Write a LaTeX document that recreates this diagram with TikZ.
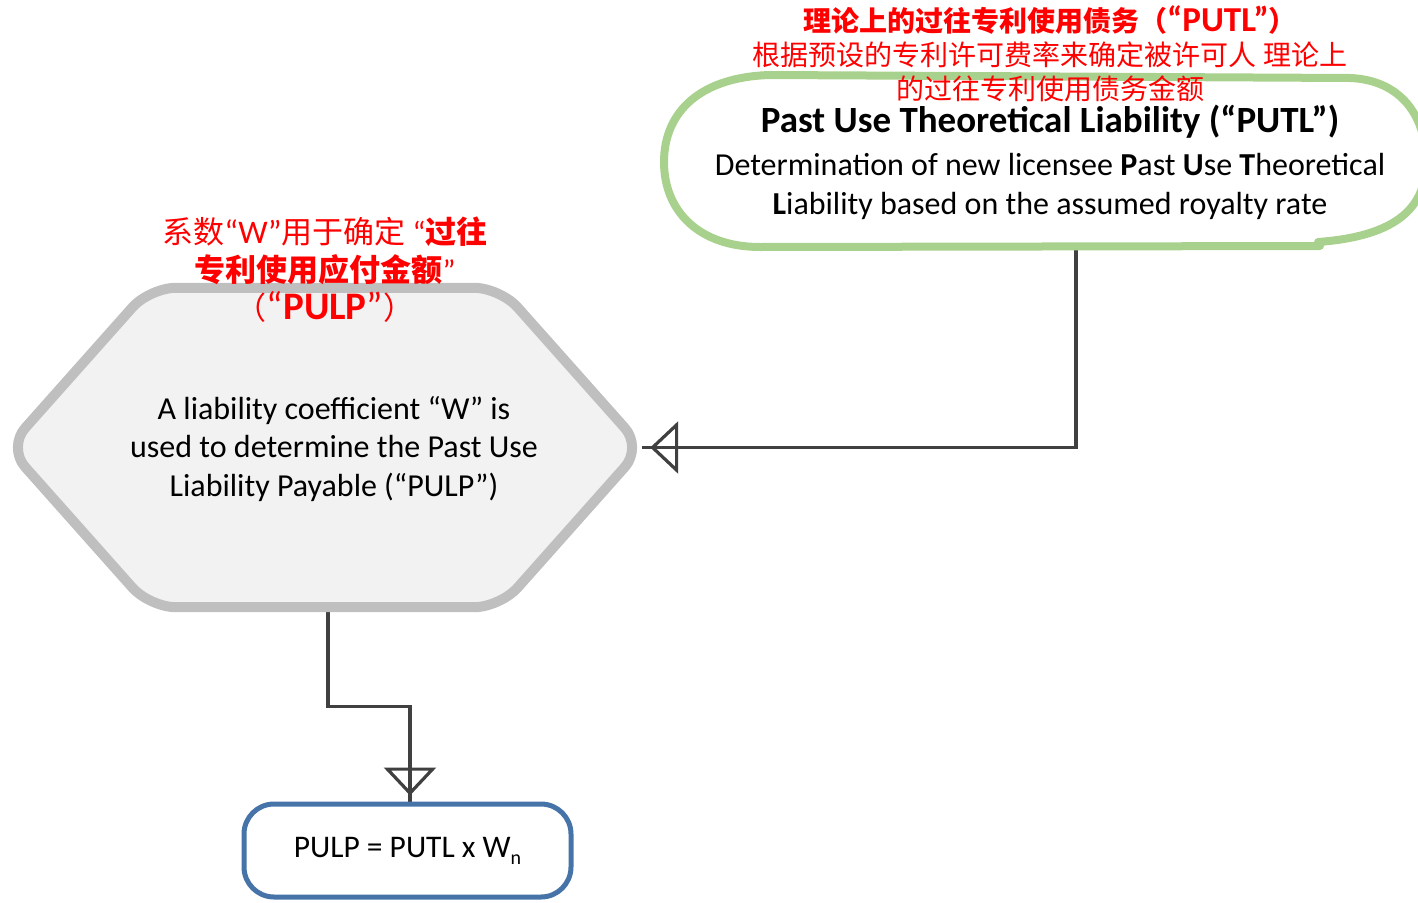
\documentclass[tikz,border=0pt]{standalone}
\usepackage{fontspec}
\setmainfont{Carlito}
\newfontfamily\cjk{Noto Sans CJK SC}
\newcommand{\latx}[1]{{\rmfamily #1}}
\newcommand{\biglatx}[2]{{\rmfamily\fontsize{#1}{#1}\selectfont #2}}
\usetikzlibrary{arrows.meta,calc}
\definecolor{redtxt}{HTML}{FF0000}
\definecolor{greenline}{HTML}{A9D18E}
\definecolor{hexline}{HTML}{BFBFBF}
\definecolor{hexfill}{HTML}{F2F2F2}
\definecolor{connline}{HTML}{404040}
\definecolor{blueline}{HTML}{4674A8}
\tikzset{
  conn/.style={draw=connline, line width=3.2pt},
  opentip/.style={-{Triangle[open,length=28pt,width=52pt]}},
  redlabel/.style={text=redtxt, align=center, inner sep=0pt, font=\cjk\fontsize{28}{34}\selectfont},
  bodytext/.style={align=center, inner sep=0pt, font=\fontsize{32}{39}\selectfont},
  titletext/.style={align=center, inner sep=0pt, font=\bfseries\fontsize{37}{40}\selectfont},
  hexshape/.style={fill=hexfill, draw=hexline, line width=10pt, rounded corners=26pt, line join=round},
  ghost/.style={inner sep=0pt, draw=none},
  outboxstyle/.style={draw=blueline, line width=5pt, rounded corners=30pt, fill=white, inner sep=0pt,
    minimum width=327pt, minimum height=93pt, font=\fontsize{31.5}{34}\selectfont},
  greenstroke/.style={draw=greenline, line width=8pt, line cap=round, line join=round}
}
\begin{document}
\begin{tikzpicture}[x=1pt,y=-1pt]
\useasboundingbox (0,0) rectangle (1418,902);
% invisible frames of the shapes
\node[ghost, minimum width=761pt, minimum height=171pt] (putl) at (1044.5,160.5) {};
\node[ghost, minimum width=634pt, minimum height=319pt] (hex) at (325,447.5) {};
\node[outboxstyle, draw=none, fill=none] (outbox) at (407.5,850.5) {};
\coordinate (putlout) at ($(putl.south)+(31.5,0)$);
\coordinate (hexout) at ($(hex.south)+(3,0)$);
\coordinate (outin) at ($(outbox.north)+(2.5,0)$);
% connectors (under the shapes)
\draw[conn] (putlout) |- (hex.east);
\draw[conn, opentip, shorten >=8pt] (putlout) |- (hex.east);
\draw[conn] (hexout) -- ++(0,99) -| (outin);
\draw[conn, opentip, shorten >=6pt] (hexout) -- ++(0,99) -| (outin);
% green hand-drawn outline
\draw[greenstroke] (1320,246) -- (760,247)
  .. controls (700,247) and (664,212) .. (664,162)
  .. controls (664,112) and (700,77) .. (770,75)
  -- (1350,78)
  .. controls (1400,80) and (1426,115) .. (1426,162)
  .. controls (1426,205) and (1400,236) .. (1318,242);
% hexagon
\draw[hexshape] (hex.west) -- ($(hex.north west)+(142,0)$) -- ($(hex.north east)+(-142,0)$)
  -- (hex.east) -- ($(hex.south east)+(-142,0)$) -- ($(hex.south west)+(142,0)$) -- cycle;
% output box
\node[outboxstyle] (outboxdraw) at (outbox) {PULP = PUTL x W{\fontsize{20}{20}\selectfont\raisebox{-7pt}{n}}};
% texts
\node[redlabel] (redtop) at (1050,54) {\textbf{理论上的过往专利使用债务（\biglatx{35}{“PUTL”}）}\\根据预设的专利许可费率来确定被许可人 理论上\\的过往专利使用债务金额};
\node[titletext] (putltitle) at (1050,122) {Past Use Theoretical Liability (“PUTL”)};
\node[bodytext] (putlbody) at (1050,186) {Determination of new licensee \textbf{P}ast \textbf{U}se \textbf{T}heoretical\\\textbf{L}iability based on the assumed royalty rate};
\node[redlabel, font=\cjk\fontsize{31}{38}\selectfont] (redhex) at (325,270) {系数\biglatx{33}{“W”}用于确定 \latx{“}\textbf{过往}\\\textbf{专利使用应付金额}\latx{”}\\（\biglatx{39}{“\textbf{PULP}”}）};
\node[bodytext, font=\fontsize{32}{38.5}\selectfont] (hextext) at (334,449) {A liability coefficient “W” is\\used to determine the Past Use\\Liability Payable (“PULP”)};
\end{tikzpicture}
\end{document}
